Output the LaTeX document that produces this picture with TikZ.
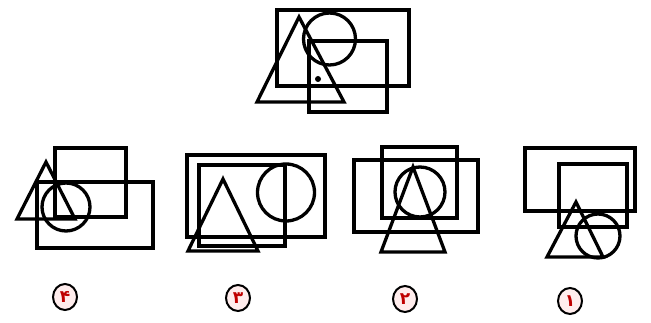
\documentclass[tikz,border=0pt]{standalone}
\usepackage{fontspec}
\usetikzlibrary{shapes.geometric}
\newfontfamily\arabicfont[Script=Arabic]{DejaVu Sans}
\begin{document}
\begin{tikzpicture}[x=1pt,y=-1pt,
  shp/.style={draw=black,line width=3.3pt,line join=miter},
  lbl/.style={draw=black,line width=2pt,fill=red!7,ellipse,minimum width=24pt,minimum height=26pt,inner sep=0pt,text=red!75!black,font=\arabicfont\bfseries\fontsize{17}{17}\selectfont}]
\useasboundingbox (0,0) rectangle (651,323);
% top figure
\draw[shp] (277,10) rectangle (409,86);
\draw[shp] (309,41) rectangle (387,112);
\draw[shp] (329.5,39) circle (26);
\draw[shp] (299,17) -- (257,102) -- (344,102) -- cycle;
\fill (318,79) circle (3);
% option 4
\draw[shp] (55,148) rectangle (126,217);
\draw[shp] (37,182) rectangle (153,248);
\draw[shp] (46,162) -- (17,219) -- (75,219) -- cycle;
\draw[shp] (66,207) circle (24);
% option 3
\draw[shp] (187,155) rectangle (325,237);
\draw[shp] (199,165) rectangle (285,246);
\draw[shp] (286,192.5) circle (28.5);
\draw[shp] (223,179) -- (188,251) -- (258,251) -- cycle;
% option 2
\draw[shp] (382,147) rectangle (457,218);
\draw[shp] (354,160) rectangle (478,232);
\draw[shp] (420,192) circle (25);
\draw[shp] (413,167) -- (381,252) -- (445,252) -- cycle;
% option 1
\draw[shp] (525,148) rectangle (635,211);
\draw[shp] (559,164) rectangle (627,227);
\draw[shp] (576,202) -- (547,257) -- (603,257) -- cycle;
\draw[shp] (598,236) circle (22);
% labels
\node[lbl] (l4) at (65,297) {۴};
\node[lbl] (l3) at (238,298) {۳};
\node[lbl] (l2) at (405,299) {۲};
\node[lbl] (l1) at (570,301) {۱};
\end{tikzpicture}
\end{document}
